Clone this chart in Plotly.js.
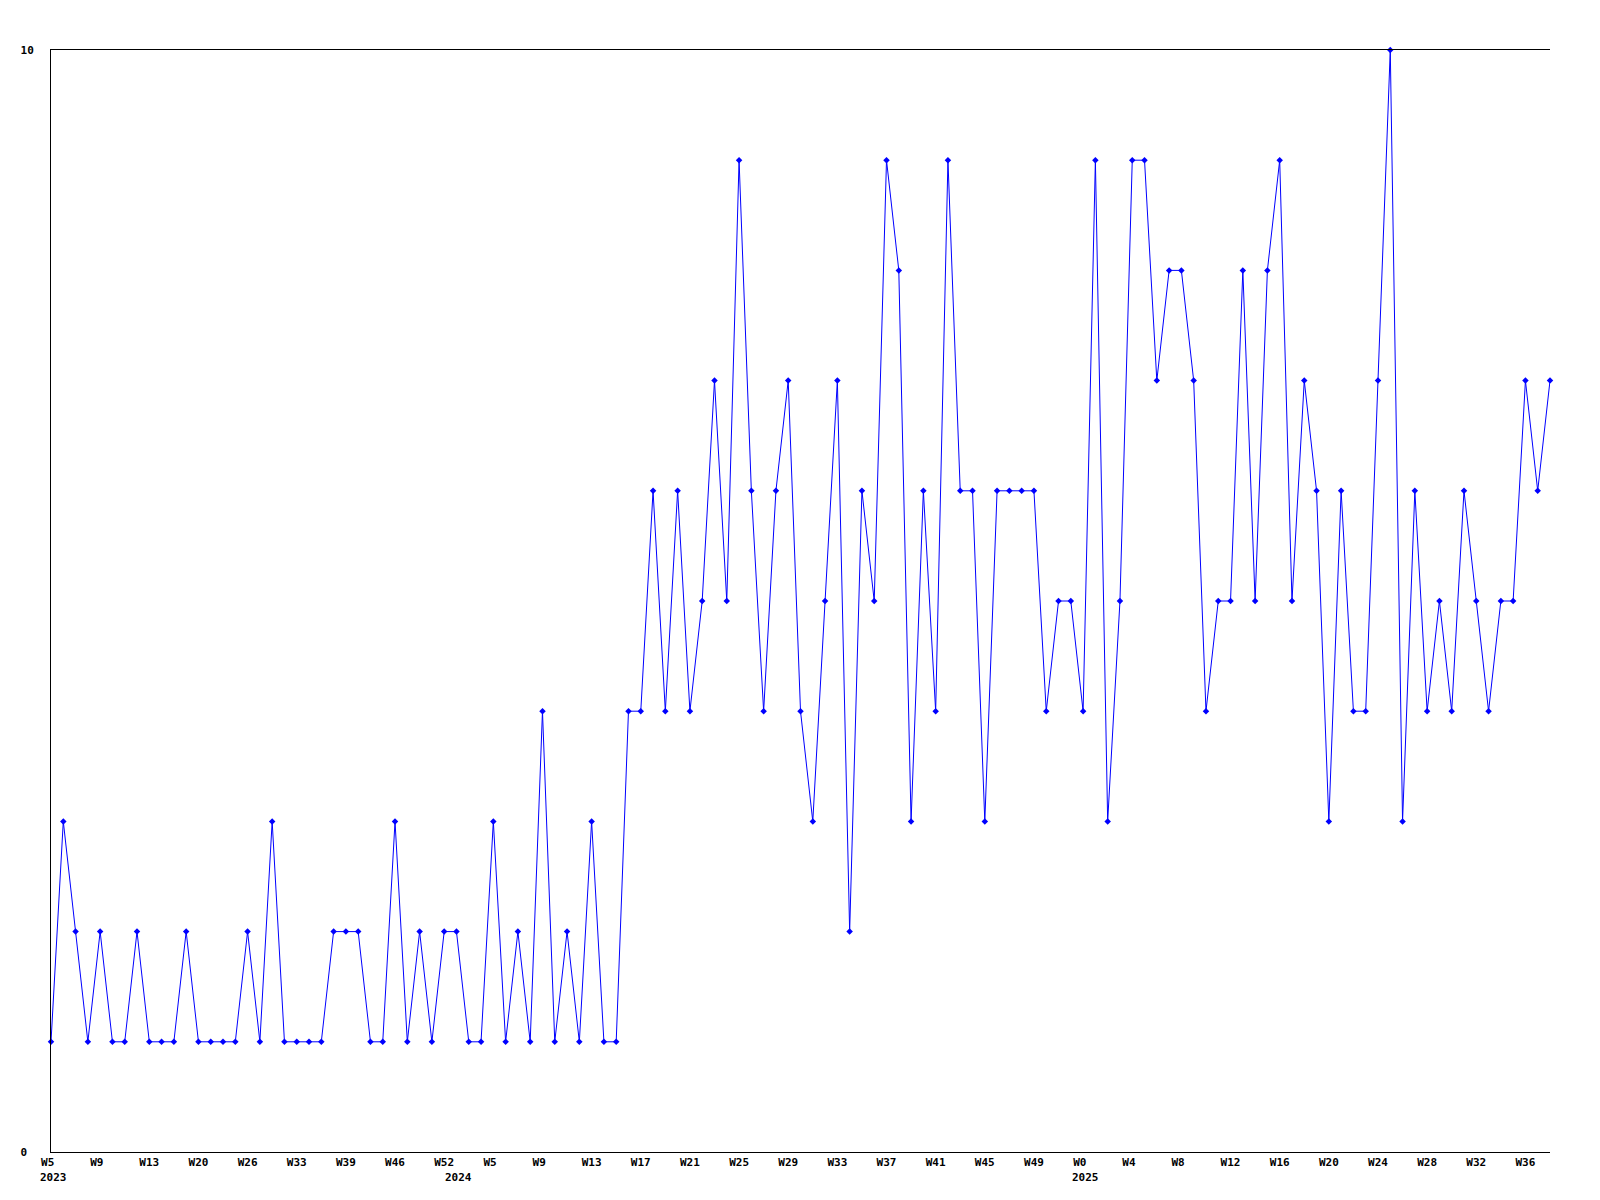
<!DOCTYPE html>
<html>
<head>
<meta charset="utf-8">
<script src="https://cdn.plot.ly/plotly-3.0.1.min.js"></script>
<style>
  html, body { margin: 0; padding: 0; background: #ffffff; }
  #chart { width: 1600px; height: 1200px; }
</style>
</head>
<body>
<div id="chart"></div>
<script>
// Weekly counts (one point per reported week, in order)
const values = [
  1, 3, 2, 1, 2, 1, 1, 2, 1, 1,
  1, 2, 1, 1, 1, 1, 2, 1, 3, 1,
  1, 1, 1, 2, 2, 2, 1, 1, 3, 1,
  2, 1, 2, 2, 1, 1, 3, 1, 2, 1,
  4, 1, 2, 1, 3, 1, 1, 4, 4, 6,
  4, 6, 4, 5, 7, 5, 9, 6, 4, 6,
  7, 4, 3, 5, 7, 2, 6, 5, 9, 8,
  3, 6, 4, 9, 6, 6, 3, 6, 6, 6,
  6, 4, 5, 5, 4, 9, 3, 5, 9, 9,
  7, 8, 8, 7, 4, 5, 5, 8, 5, 8,
  9, 5, 7, 6, 3, 6, 4, 4, 7, 10,
  3, 6, 4, 5, 4, 6, 5, 4, 5, 5,
  7, 6, 7
];

// Week tick labels, one every 4th point
const weekLabels = [
  "W5", "W9", "W13", "W20", "W26", "W33", "W39", "W46", "W52",
  "W5", "W9", "W13", "W17", "W21", "W25", "W29", "W33", "W37", "W41", "W45", "W49",
  "W0", "W4", "W8", "W12", "W16", "W20", "W24", "W28", "W32", "W36"
];
const tickEvery = 4;

// Year labels and the point index where each year starts
const yearLabels = ["2023", "2024", "2025"];
const yearStartIndex = [0, 33, 84];

const yTickValues = [0, 10];
const yTickText = ["0", "10"];

// ---- build ----
const xs = values.map((_, i) => i);
const tickvals = weekLabels.map((_, i) => i * tickEvery);
const ticktext = weekLabels.map(w => (w.length < 3 ? w + "\u00A0" : w));

const tickFont = { family: "DejaVu Sans Mono, monospace", size: 11, color: "#000000", weight: "bold" };

const trace = {
  x: xs,
  y: values,
  type: "scatter",
  mode: "lines+markers",
  line: { color: "#0000ff", width: 1 },
  marker: { color: "#0000ff", symbol: "diamond", size: 5 },
  cliponaxis: false,
  hoverinfo: "x+y"
};

const annotations = yearLabels.map((y, i) => ({
  x: yearStartIndex[i],
  xref: "x",
  y: 0,
  yref: "paper",
  xanchor: "left",
  yanchor: "top",
  xshift: -12,
  yshift: -18,
  text: y,
  showarrow: false,
  font: tickFont,
  borderpad: 0
}));

const layout = {
  width: 1600,
  height: 1200,
  margin: { l: 51, r: 50, t: 50, b: 48, pad: 0 },
  paper_bgcolor: "#ffffff",
  plot_bgcolor: "#ffffff",
  showlegend: false,
  annotations: annotations,
  xaxis: {
    range: [0, values.length - 1],
    tickmode: "array",
    tickvals: tickvals,
    ticktext: ticktext,
    tickangle: 0,
    ticks: "",
    showgrid: false,
    zeroline: false,
    showline: true,
    mirror: true,
    linecolor: "#000000",
    linewidth: 1,
    tickfont: tickFont,
    ticklabelstandoff: 0
  },
  yaxis: {
    range: [0, 10],
    tickmode: "array",
    tickvals: yTickValues,
    ticktext: yTickText.map(t => (t.length < 2 ? t + "\u00A0" : t)),
    ticks: "",
    showgrid: false,
    zeroline: false,
    showline: true,
    linecolor: "#000000",
    linewidth: 1,
    tickfont: tickFont,
    ticklabelstandoff: 14
  }
};

Plotly.newPlot("chart", [trace], layout, { displayModeBar: false, staticPlot: true });
</script>
</body>
</html>
